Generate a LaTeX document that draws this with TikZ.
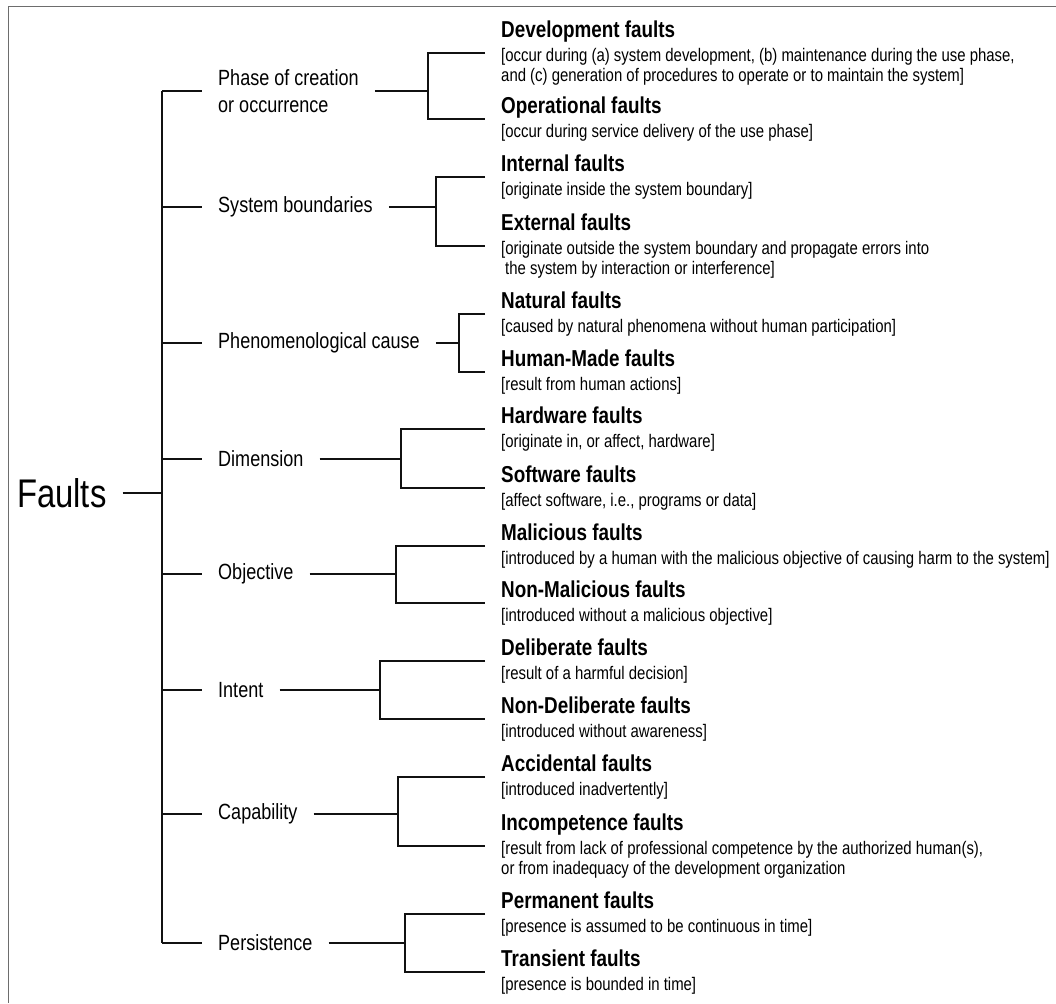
\documentclass[tikz,border=0pt]{standalone}
\usepackage{fontspec}
\setmainfont{Liberation Sans}[FakeStretch=0.82]
\usepackage{tikz}
\usepackage{xcolor}
\definecolor{customgray}{HTML}{6d6d6d}
\definecolor{customblack}{HTML}{111111}

% title in bold, then the bracketed description
\newcommand{\faultleaf}[2]{{\fontsize{23pt}{20pt}\selectfont\bfseries #1}\\[3.5pt]{}#2}

\begin{document}
\begin{tikzpicture}[
        faultbox/.style = {anchor = west, align = left, inner xsep = 16pt, inner ysep = 0pt, font = \fontsize{18.2pt}{20pt}\selectfont},
        facetbox/.style = {anchor = west, align = left, inner xsep = 16pt, inner ysep = 0pt, font = \fontsize{22pt}{27pt}\selectfont},
        thicklink/.style = {line width = 2pt, color = customblack},
        thinlink/.style = {line width = 1.4pt, color = customblack}
    ]
        \useasboundingbox (0pt, 0pt) rectangle (1056pt, -1003pt);
        % Frame
        \draw [line width = 1pt, color = customgray] (1056pt, -7pt) -- (8pt, -7pt) -- (8pt, -1003pt);

        % Nodes
        \node [anchor = west, inner xsep = 16pt, font = \fontsize{40pt}{44pt}\selectfont] (faults) at (1pt, -493pt) {Faults};
        \coordinate (spine) at (162pt, -493pt);

        \node [facetbox] (phase) at (202pt, -91pt) {Phase of creation\\or occurrence};
        \node [facetbox] (system) at (202pt, -207pt) {System boundaries};
        \node [facetbox] (phenom) at (202pt, -343pt) {Phenomenological cause};
        \node [facetbox] (dimension) at (202pt, -459pt) {Dimension};
        \node [facetbox] (objective) at (202pt, -574pt) {Objective};
        \node [facetbox] (intent) at (202pt, -690pt) {Intent};
        \node [facetbox] (capability) at (202pt, -814pt) {Capability};
        \node [facetbox] (persistence) at (202pt, -943pt) {Persistence};

        \coordinate (phase-b) at (428pt, -91pt);
        \coordinate (system-b) at (436pt, -207pt);
        \coordinate (phenom-b) at (459pt, -343pt);
        \coordinate (dimension-b) at (401pt, -459pt);
        \coordinate (objective-b) at (396pt, -574pt);
        \coordinate (intent-b) at (380pt, -690pt);
        \coordinate (capability-b) at (398pt, -814pt);
        \coordinate (persistence-b) at (405pt, -943pt);

        \node [faultbox] (dev) at (485pt, -53pt) {\faultleaf{Development faults}{[occur during (a) system development, (b) maintenance during the use phase,\\and (c) generation of procedures to operate or to maintain the system]}};
        \node [faultbox] (oper) at (485pt, -119pt) {\faultleaf{Operational faults}{[occur during service delivery of the use phase]}};
        \node [faultbox] (inter) at (485pt, -177pt) {\faultleaf{Internal faults}{[originate inside the system boundary]}};
        \node [faultbox] (exter) at (485pt, -246pt) {\faultleaf{External faults}{[originate outside the system boundary and propagate errors into\\\hspace*{4pt}the system by interaction or interference]}};
        \node [faultbox] (nat) at (485pt, -314pt) {\faultleaf{Natural faults}{[caused by natural phenomena without human participation]}};
        \node [faultbox] (hum) at (485pt, -372pt) {\faultleaf{Human-Made faults}{[result from human actions]}};
        \node [faultbox] (hw) at (485pt, -429pt) {\faultleaf{Hardware faults}{[originate in, or affect, hardware]}};
        \node [faultbox] (sw) at (485pt, -488pt) {\faultleaf{Software faults}{[affect software, i.e., programs or data]}};
        \node [faultbox] (mal) at (485pt, -546pt) {\faultleaf{Malicious faults}{[introduced by a human with the malicious objective of causing harm to the system]}};
        \node [faultbox] (nonmal) at (485pt, -603pt) {\faultleaf{Non-Malicious faults}{[introduced without a malicious objective]}};
        \node [faultbox] (delib) at (485pt, -661pt) {\faultleaf{Deliberate faults}{[result of a harmful decision]}};
        \node [faultbox] (nondelib) at (485pt, -719pt) {\faultleaf{Non-Deliberate faults}{[introduced without awareness]}};
        \node [faultbox] (acc) at (485pt, -777pt) {\faultleaf{Accidental faults}{[introduced inadvertently]}};
        \node [faultbox] (incomp) at (485pt, -846pt) {\faultleaf{Incompetence faults}{[result from lack of professional competence by the authorized human(s),\\or from inadequacy of the development organization}};
        \node [faultbox] (perm) at (485pt, -914pt) {\faultleaf{Permanent faults}{[presence is assumed to be continuous in time]}};
        \node [faultbox] (trans) at (485pt, -972pt) {\faultleaf{Transient faults}{[presence is bounded in time]}};

        % Draw the links
        \draw [thicklink] (faults) -- (spine);
        \draw [thicklink] (spine |- phase.west) -- (spine |- persistence.west);
        \draw [thinlink] (spine |- phase.west) -- (phase.west);
        \draw [thinlink] (spine |- system.west) -- (system.west);
        \draw [thinlink] (spine |- phenom.west) -- (phenom.west);
        \draw [thinlink] (spine |- dimension.west) -- (dimension.west);
        \draw [thinlink] (spine |- objective.west) -- (objective.west);
        \draw [thinlink] (spine |- intent.west) -- (intent.west);
        \draw [thinlink] (spine |- capability.west) -- (capability.west);
        \draw [thinlink] (spine |- persistence.west) -- (persistence.west);

        \draw [thicklink] (phase) -- (phase-b);
        \draw [thicklink] (system) -- (system-b);
        \draw [thicklink] (phenom) -- (phenom-b);
        \draw [thicklink] (dimension) -- (dimension-b);
        \draw [thicklink] (objective) -- (objective-b);
        \draw [thicklink] (intent) -- (intent-b);
        \draw [thicklink] (capability) -- (capability-b);
        \draw [thicklink] (persistence) -- (persistence-b);

        \draw [thinlink] (dev.west) -| (phase-b) |- (oper.west);
        \draw [thinlink] (inter.west) -| (system-b) |- (exter.west);
        \draw [thinlink] (nat.west) -| (phenom-b) |- (hum.west);
        \draw [thinlink] (hw.west) -| (dimension-b) |- (sw.west);
        \draw [thinlink] (mal.west) -| (objective-b) |- (nonmal.west);
        \draw [thinlink] (delib.west) -| (intent-b) |- (nondelib.west);
        \draw [thinlink] (acc.west) -| (capability-b) |- (incomp.west);
        \draw [thinlink] (perm.west) -| (persistence-b) |- (trans.west);

    \end{tikzpicture}
\end{document}
